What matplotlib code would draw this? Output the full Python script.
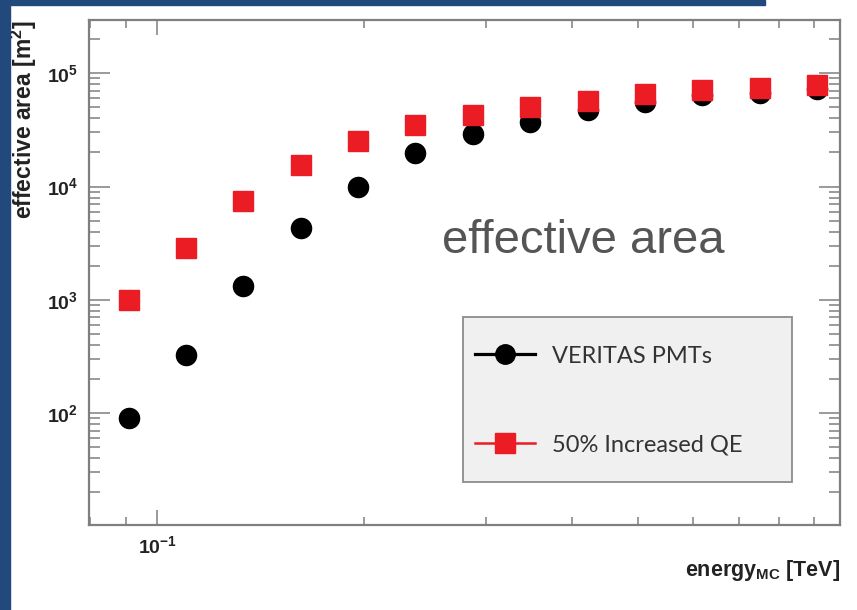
import numpy as np
import matplotlib.pyplot as plt
from matplotlib.lines import Line2D
from matplotlib.patches import Rectangle
from matplotlib.ticker import LogLocator, FuncFormatter, NullFormatter

plt.rcParams['font.family'] = ['Liberation Sans', 'DejaVu Sans']
plt.rcParams['mathtext.fontset'] = 'custom'
plt.rcParams['mathtext.rm'] = 'Liberation Sans:bold'
plt.rcParams['mathtext.it'] = 'Liberation Sans:bold:italic'
plt.rcParams['mathtext.bf'] = 'Liberation Sans:bold'
plt.rcParams['axes.unicode_minus'] = False

# energy bin centres (TeV), 12 bins per decade
energy = [0.0909, 0.1101, 0.1334, 0.1616, 0.1957, 0.2371, 0.2873,
          0.3481, 0.4217, 0.5109, 0.6190, 0.7499, 0.9085]
# effective area (m^2)
area_veritas = [90, 325, 1320, 4300, 9900, 19700, 29000,
                37000, 47200, 55600, 64100, 66700, 72400]
area_qe50 = [1000, 2860, 7430, 15500, 25200, 34800, 42700,
             50200, 56700, 65500, 71000, 73900, 78600]
labels = ['VERITAS PMTs', '50% Increased QE']

blue = '#21497c'
red = '#ec1c24'
grey = '#7f7f7f'


def pow10(v, pos):
    return r'$\mathbf{10^{%d}}$' % int(round(np.log10(v)))


fig = plt.figure(figsize=(8.57, 6.10), dpi=100)
fig.add_artist(Rectangle((0, 0), 10/857, 1, transform=fig.transFigure, color=blue, zorder=10))
fig.add_artist(Rectangle((0, 1-5/610), 765/857, 5/610, transform=fig.transFigure, color=blue, zorder=10))

ax = fig.add_axes([89/857, 1-525/610, 751/857, 505/610])
ax.set_xscale('log')
ax.set_yscale('log')

ax.plot(energy, area_veritas, 'o', color='k', markersize=14.5, linestyle='none', zorder=3)
ax.plot(energy, area_qe50, 's', color=red, markersize=14.5, linestyle='none', zorder=4)

ax.set_xlim(0.0796, 0.981)
ax.set_ylim(10.3, 2.95e5)

for s in ax.spines.values():
    s.set_color(grey)
    s.set_linewidth(1.6)

ax.xaxis.set_major_locator(LogLocator(base=10))
ax.xaxis.set_minor_locator(LogLocator(base=10, subs=np.arange(2, 10)))
ax.xaxis.set_major_formatter(FuncFormatter(pow10))
ax.yaxis.set_major_formatter(FuncFormatter(pow10))
ax.xaxis.set_minor_formatter(NullFormatter())
ax.yaxis.set_minor_formatter(NullFormatter())

ax.tick_params(axis='both', which='both', direction='in', top=True, right=True,
               color=grey, width=1.1, labelsize=14, labelcolor='#222222')
ax.tick_params(axis='y', which='major', length=15, pad=8)
ax.tick_params(axis='y', which='minor', length=8)
ax.tick_params(axis='x', which='major', length=11, pad=7)
ax.tick_params(axis='x', which='minor', length=6)

ax.set_ylabel(r'effective area [m$^{2}$]', fontsize=16.5, fontweight='bold', loc='top', color='#222222')
ax.yaxis.set_label_coords(-0.066, 1.0)
ax.set_xlabel(r'energy$_{\mathrm{MC}}$ [TeV]', fontsize=15.5, fontweight='bold', loc='right', color='#222222')
ax.xaxis.set_label_coords(1.0, -0.065)

ax.text(0.470, 0.539, 'effective area', transform=ax.transAxes, fontsize=34,
        color='#555555', ha='left', va='baseline')

# legend panel
ax.add_patch(Rectangle((0.498, 0.085), 0.438, 0.327, transform=ax.transAxes,
                       facecolor='#f0f0f0', edgecolor='#8c8c8c', linewidth=1.3, zorder=5))
handles = [Line2D([], [], color='k', lw=2.3, marker='o', markersize=14),
           Line2D([], [], color=red, lw=1.8, marker='s', markersize=14)]
leg = ax.legend(handles, labels, loc='upper left', bbox_to_anchor=(0.514, 0.355),
                frameon=False, borderpad=0, borderaxespad=0, handlelength=2.54,
                handletextpad=0.72, labelspacing=2.85,
                prop={'family': ['Lato', 'DejaVu Sans'], 'size': 17})
leg.set_zorder(6)
for t in leg.get_texts():
    t.set_color('#333333')

fig.savefig('out.png', dpi=100)
